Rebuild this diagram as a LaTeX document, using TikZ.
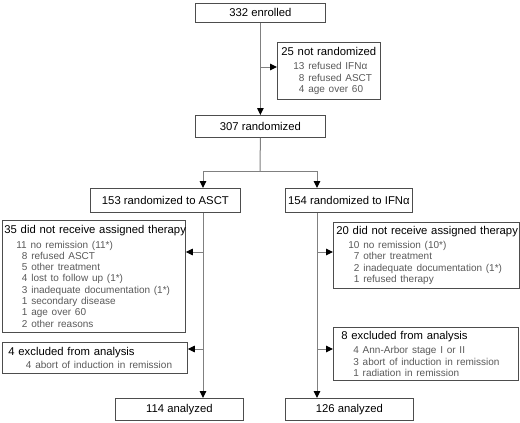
\documentclass[tikz,border=0pt]{standalone}
\usepackage{fontspec}
\setmainfont{Liberation Sans}
\usetikzlibrary{arrows.meta,positioning}
\definecolor{boxline}{HTML}{4D4D4D}
\definecolor{flowline}{HTML}{808080}
\definecolor{reason}{HTML}{595959}
\newcommand{\losstitle}[1]{\mbox{#1}}
\newcommand{\reasonline}[1]{{\color{reason}\fontsize{10}{11.3}\selectfont\hspace*{12pt}#1}}

\tikzset{
  stage/.style={draw=boxline, line width=0.8pt, anchor=north west, inner sep=0pt,
    font=\fontsize{11.3}{13}\selectfont},
  lossbox/.style={draw=boxline, line width=0.8pt, anchor=north west, align=left,
    inner xsep=3pt, inner ysep=2pt, font=\fontsize{11.3}{11.3}\selectfont},
  flow/.style={draw=flowline, line width=1pt, -{Triangle[length=7pt,width=6.5pt,color=black]}},
  trunk/.style={draw=flowline, line width=1pt},
}

\begin{document}
\begin{tikzpicture}[x=1pt, y=-1pt]
  \useasboundingbox (0,0) rectangle (520,423);
  % main column
  \node[stage, minimum width=130pt, minimum height=19pt] (enrol) at (195,3) {332 enrolled};
  \node[stage, minimum width=130pt, minimum height=22pt] (rand) at (195,115) {307 randomized};
  \node[lossbox, text width=95pt, inner xsep=4pt, minimum height=57pt] (notrand) at (277,42)
    {\losstitle{25 not randomized}\\[3pt]
     \reasonline{13 refused IFNα}\\
     \reasonline{\phantom{1}8 refused ASCT}\\
     \reasonline{\phantom{1}4 age over 60}};
  % the two arms
  \node[stage, minimum width=150pt, minimum height=24pt] (armA) at (90,188) {153 randomized to ASCT};
  \node[stage, minimum width=127pt, minimum height=24pt] (armB) at (285,188) {154 randomized to IFNα};
  \node[lossbox, text width=179pt, inner xsep=2pt, minimum height=112pt] (skipA) at (2,220)
    {\losstitle{35 did not receive assigned therapy}\\[3pt]
     \reasonline{11 no remission (11*)}\\
     \reasonline{\phantom{1}8 refused ASCT}\\
     \reasonline{\phantom{1}5 other treatment}\\
     \reasonline{\phantom{1}4 lost to follow up (1*)}\\
     \reasonline{\phantom{1}3 inadequate documentation (1*)}\\
     \reasonline{\phantom{1}1 secondary disease}\\
     \reasonline{\phantom{1}1 age over 60}\\
     \reasonline{\phantom{1}2 other reasons}};
  \node[lossbox, text width=180pt, minimum height=66pt] (skipB) at (333,222)
    {\losstitle{20 did not receive assigned therapy}\\[3pt]
     \reasonline{10 no remission (10*)}\\
     \reasonline{\phantom{1}7 other treatment}\\
     \reasonline{\phantom{1}2 inadequate documentation (1*)}\\
     \reasonline{\phantom{1}1 refused therapy}};
  \node[lossbox, text width=173pt, inner xsep=6pt, minimum height=31pt] (exclA) at (2,342)
    {\losstitle{4 excluded from analysis}\\[2pt]
     \reasonline{\phantom{1}4 abort of induction in remission}};
  \node[lossbox, text width=169pt, inner xsep=8pt, minimum height=53pt] (exclB) at (333,327)
    {\losstitle{8 excluded from analysis}\\[3pt]
     \reasonline{4 Ann-Arbor stage I or II}\\
     \reasonline{3 abort of induction in remission}\\
     \reasonline{1 radiation in remission}};
  \node[stage, minimum width=128pt, minimum height=22pt] (doneA) at (115,398) {114 analyzed};
  \node[stage, minimum width=128pt, minimum height=22pt] (doneB) at (285,398) {126 analyzed};

  % connectors
  \coordinate (tapR) at (260,67);
  \coordinate (split) at (260,171);
  \coordinate (laneA) at (203,171);
  \coordinate (laneB) at (317,171);
  \coordinate (tapA1) at (203,252);
  \coordinate (tapA2) at (203,349);
  \coordinate (tapB1) at (317,252);
  \coordinate (tapB2) at (317,349);
  \draw[flow] (enrol.south) -- (rand.north);
  \draw[flow] (tapR) -- (tapR -| notrand.west);
  \draw[trunk] (rand.south) -- (split);
  \draw[trunk] (laneA) -- (laneB);
  \draw[flow] (laneA) -- (laneA |- armA.north);
  \draw[flow] (laneB) -- (laneB |- armB.north);
  \draw[flow] (laneA |- armA.south) -- (laneA |- doneA.north);
  \draw[flow] (laneB |- armB.south) -- (laneB |- doneB.north);
  \draw[flow] (tapA1) -- (tapA1 -| skipA.east);
  \draw[flow] (tapA2) -- (tapA2 -| exclA.east);
  \draw[flow] (tapB1) -- (tapB1 -| skipB.west);
  \draw[flow] (tapB2) -- (tapB2 -| exclB.west);
\end{tikzpicture}
\end{document}
